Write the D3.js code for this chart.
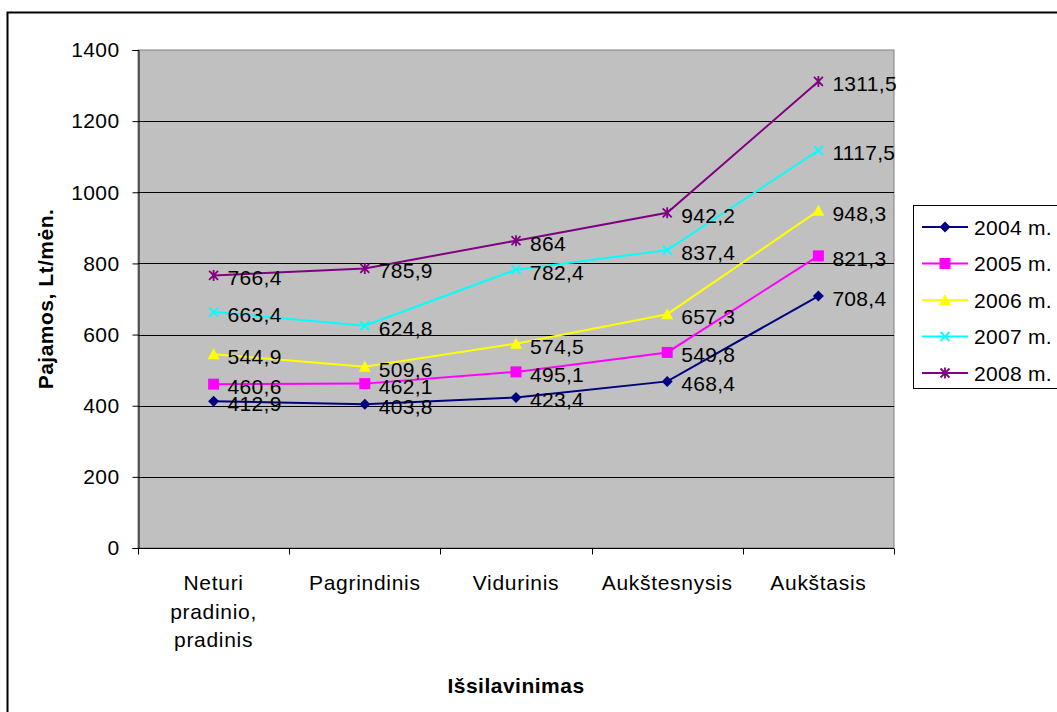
<!DOCTYPE html>
<html>
<head>
<meta charset="utf-8">
<script src="https://cdn.jsdelivr.net/npm/d3@7"></script>
<style>
  body { margin: 0; background: #fff; }
  text { font-family: "Liberation Sans", Arial, sans-serif; fill: #000; }
</style>
</head>
<body>
<div id="chart"></div>
<script>
const categories = [["Neturi", "pradinio,", "pradinis"], ["Pagrindinis"], ["Vidurinis"], ["Aukštesnysis"], ["Aukštasis"]];
const seriesNames = ["2004 m.", "2005 m.", "2006 m.", "2007 m.", "2008 m."];
const values2004 = [412.9, 403.8, 423.4, 468.4, 708.4];
const values2005 = [460.6, 462.1, 495.1, 549.8, 821.3];
const values2006 = [544.9, 509.6, 574.5, 657.3, 948.3];
const values2007 = [663.4, 624.8, 782.4, 837.4, 1117.5];
const values2008 = [766.4, 785.9, 864, 942.2, 1311.5];
const yTicks = [0, 200, 400, 600, 800, 1000, 1200, 1400];

const series = [
  { name: seriesNames[0], vals: values2004, color: "#000080", marker: "diamond" },
  { name: seriesNames[1], vals: values2005, color: "#FF00FF", marker: "square" },
  { name: seriesNames[2], vals: values2006, color: "#FFFF00", marker: "triangle" },
  { name: seriesNames[3], vals: values2007, color: "#00FFFF", marker: "x" },
  { name: seriesNames[4], vals: values2008, color: "#800080", marker: "star" },
];

const width = 1057, height = 712;
const plot = { left: 138, right: 894, top: 50, bottom: 548 };
const fontSize = "21px";

const svg = d3.select("#chart").append("svg")
  .attr("width", width).attr("height", height);

// outer chart border
svg.append("rect")
  .attr("x", 7.5).attr("y", 12.5).attr("width", 1200).attr("height", 900)
  .attr("fill", "#fff").attr("stroke", "#000").attr("stroke-width", 2);

const x = d3.scaleBand().domain(d3.range(categories.length))
  .range([plot.left, plot.right]);
const y = d3.scaleLinear().domain([0, 1400]).range([plot.bottom, plot.top]);

svg.append("rect")
  .attr("x", plot.left).attr("y", plot.top)
  .attr("width", plot.right - plot.left).attr("height", plot.bottom - plot.top)
  .attr("fill", "#C0C0C0").attr("stroke", "#808080");

// grid lines
svg.append("g").selectAll("line")
  .data(yTicks.filter((d) => d > 0 && d < 1400))
  .join("line")
  .attr("x1", plot.left).attr("x2", plot.right)
  .attr("y1", (d) => Math.round(y(d)) + 0.5).attr("y2", (d) => Math.round(y(d)) + 0.5)
  .attr("stroke", "#000");

// y axis
const yAxis = svg.append("g")
  .attr("transform", `translate(${plot.left + 0.5},0)`)
  .call(d3.axisLeft(y).tickValues(yTicks).tickSize(6).tickPadding(13).tickFormat(d3.format("d")));
yAxis.select(".domain").attr("stroke", "#000");
yAxis.selectAll("line").attr("stroke", "#000");
yAxis.selectAll("text").style("font-size", fontSize).style("letter-spacing", "0.4px").attr("font-family", null);

// x axis
const xAxisG = svg.append("g").attr("transform", `translate(0,${plot.bottom + 0.5})`);
xAxisG.append("line").attr("x1", plot.left).attr("x2", plot.right).attr("stroke", "#000");
xAxisG.selectAll(".tk")
  .data(d3.range(categories.length + 1))
  .join("line")
  .attr("x1", (i) => Math.round(plot.left + i * x.bandwidth()) + 0.5)
  .attr("x2", (i) => Math.round(plot.left + i * x.bandwidth()) + 0.5)
  .attr("y1", 0).attr("y2", 6).attr("stroke", "#000");

svg.append("g").selectAll("text")
  .data(categories)
  .join("text")
  .attr("text-anchor", "middle")
  .style("font-size", fontSize)
  .style("letter-spacing", "0.7px")
  .each(function (lines, i) {
    d3.select(this).selectAll("tspan").data(lines).join("tspan")
      .attr("x", x(i) + x.bandwidth() / 2)
      .attr("y", (d, j) => 590 + j * 28.5)
      .text((d) => d);
  });

// axis titles
svg.append("text")
  .attr("x", (plot.left + plot.right) / 2).attr("y", 693)
  .attr("text-anchor", "middle")
  .style("font-size", fontSize).style("font-weight", "bold").style("letter-spacing", "0.5px")
  .text("Išsilavinimas");
svg.append("text")
  .attr("transform", `translate(53,${(plot.top + plot.bottom) / 2}) rotate(-90)`)
  .attr("text-anchor", "middle")
  .style("font-size", fontSize).style("font-weight", "bold").style("letter-spacing", "0.5px")
  .text("Pajamos, Lt/mėn.");

function drawMarker(g, type, color) {
  if (type === "diamond") {
    g.append("path").attr("d", "M0,-5.5L5.5,0L0,5.5L-5.5,0Z").attr("fill", color);
  } else if (type === "square") {
    g.append("rect").attr("x", -5.5).attr("y", -5.5).attr("width", 11).attr("height", 11).attr("fill", color);
  } else if (type === "triangle") {
    g.append("path").attr("d", "M0,-6L6,5L-6,5Z").attr("fill", color);
  } else if (type === "x") {
    g.append("path").attr("d", "M-4.5,-4.5L4.5,4.5M-4.5,4.5L4.5,-4.5")
      .attr("stroke", color).attr("stroke-width", 1.8);
  } else {
    g.append("path").attr("d", "M-4.5,-4.5L4.5,4.5M-4.5,4.5L4.5,-4.5M0,-5.5L0,5.5")
      .attr("stroke", color).attr("stroke-width", 1.8);
  }
}

const cx = (i) => x(i) + x.bandwidth() / 2;
const line = d3.line().x((d, i) => cx(i)).y((d) => y(d));

series.forEach((s) => {
  svg.append("path").datum(s.vals)
    .attr("d", line).attr("fill", "none")
    .attr("stroke", s.color).attr("stroke-width", 2);
  s.vals.forEach((v, i) => {
    const g = svg.append("g").attr("transform", `translate(${cx(i)},${y(v)})`);
    drawMarker(g, s.marker, s.color);
  });
});

// data labels on top
series.forEach((s) => {
  svg.append("g").selectAll("text")
    .data(s.vals)
    .join("text")
    .attr("x", (d, i) => cx(i) + 14)
    .attr("y", (d) => y(d) + 10)
    .style("font-size", fontSize)
    .style("letter-spacing", "0.3px")
    .text((d) => d3.format(".1f")(d).replace(".", ",").replace(/,0$/, ""));
});

// legend
const leg = svg.append("g");
leg.append("rect")
  .attr("x", 913.5).attr("y", 205.5).attr("width", 200).attr("height", 183)
  .attr("fill", "#fff").attr("stroke", "#000");
series.forEach((s, i) => {
  const ly = 227 + i * 36.5;
  leg.append("line").attr("x1", 922).attr("x2", 968).attr("y1", ly).attr("y2", ly)
    .attr("stroke", s.color).attr("stroke-width", 2);
  drawMarker(leg.append("g").attr("transform", `translate(945,${ly})`), s.marker, s.color);
  leg.append("text").attr("x", 974).attr("y", ly + 7.5)
    .style("font-size", fontSize).style("letter-spacing", "0.3px").text(s.name);
});
</script>
</body>
</html>
